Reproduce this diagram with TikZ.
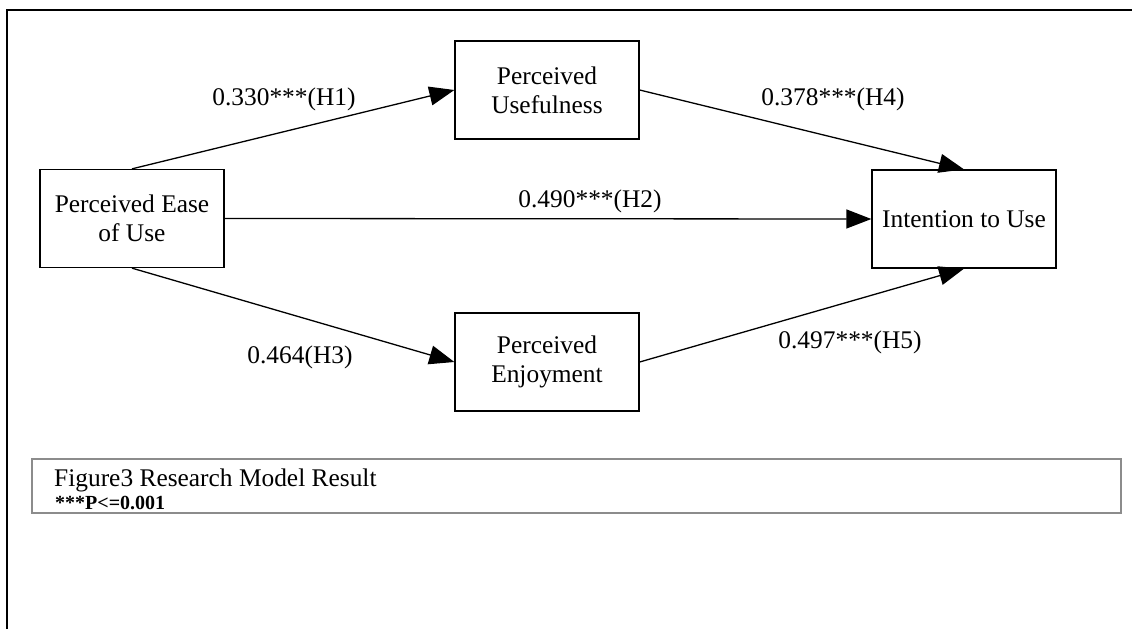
\documentclass[tikz,border=0pt]{standalone}
\usepackage{fontspec}
\setmainfont{Liberation Serif}
\usetikzlibrary{arrows.meta}
\definecolor{capgray}{HTML}{8C8C8C}
\begin{document}
\begin{tikzpicture}[x=1pt,y=-1pt,
  box/.style={draw, line width=1.3pt, minimum width=184pt, minimum height=98pt, inner sep=0pt, align=center, font=\fontsize{25.4}{29}\selectfont},
  conn/.style={line width=1.3pt, -{Triangle[length=25pt,width=19pt]}},
  lab/.style={anchor=base, inner sep=0pt, font=\fontsize{25.4}{29}\selectfont},
  captext/.style={anchor=base west, inner sep=0pt}]
\useasboundingbox (0,0) rectangle (1132,629);
\fill[white] (0,0) rectangle (1132,629);
% outer frame
\draw[line width=2pt] (7,629) -- (7,10) -- (1132,10);
% nodes
\node[box] (peou) at (132,218.5) {Perceived Ease\\of Use};
\node[box] (pu) at (547,90) {Perceived\\Usefulness};
\node[box] (pe) at (547,362) {Perceived\\Enjoyment};
\node[box] (iu) at (964,219) {Intention to Use};
% connectors
\draw[conn] (peou.north) -- (pu.west);
\draw[conn] (pu.east) -- (iu.north);
\draw[conn] (peou.east) -- (iu.west);
\draw[conn] (peou.south) -- (pe.west);
\draw[conn] (pe.east) -- (iu.south);
% labels
\node[lab] (l1) at (284,105) {0.330***(H1)};
\node[lab] (l4) at (833,105) {0.378***(H4)};
\node[lab] (l2) at (590,207) {0.490***(H2)};
\node[lab] (l3) at (300,363) {0.464(H3)};
\node[lab] (l5) at (850,348) {0.497***(H5)};
% caption
\draw[capgray, line width=1.5pt] (32,459) rectangle (1121,513);
\node[captext, font=\fontsize{25.4}{29}\selectfont] (cap1) at (54,486) {Figure3 Research Model Result};
\node[captext, font=\fontsize{20}{24}\selectfont\bfseries] (cap2) at (55,509) {***P<=0.001};
\end{tikzpicture}
\end{document}
